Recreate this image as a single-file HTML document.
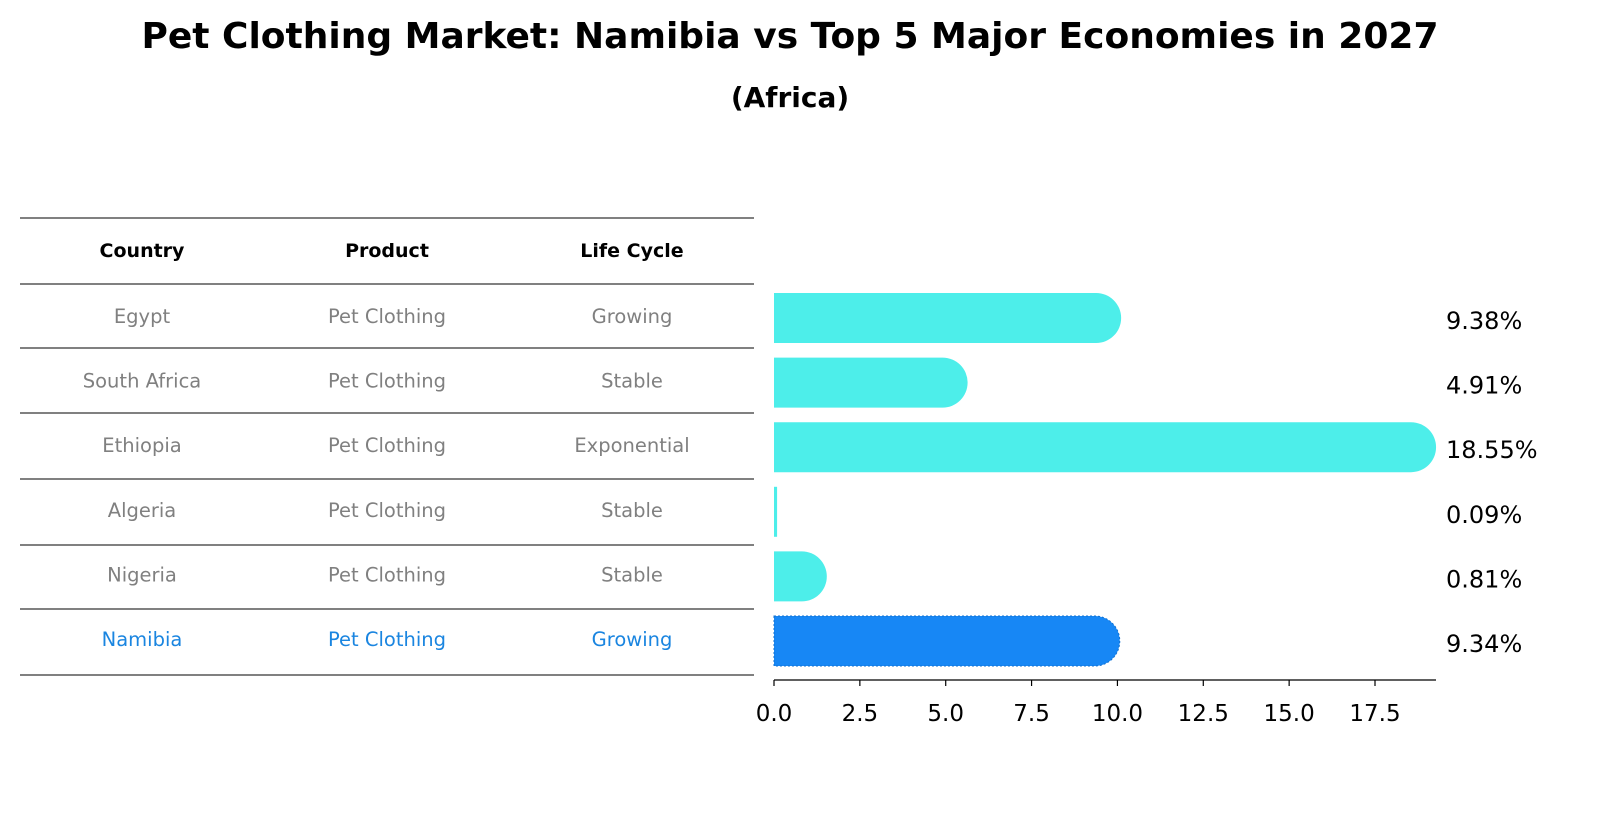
<!DOCTYPE html>
<html><head><meta charset="utf-8"><style>
body{margin:0;background:#fff;font-family:"Liberation Sans","DejaVu Sans",sans-serif;}
svg text{font-family:"DejaVu Sans","Liberation Sans",sans-serif;}
</style></head><body>
<svg width="1604" height="823" xmlns="http://www.w3.org/2000/svg" id="chart">
<text x="790" y="48" text-anchor="middle" font-size="36" font-weight="bold">Pet Clothing Market: Namibia vs Top 5 Major Economies in 2027</text>
<text x="790" y="107" text-anchor="middle" font-size="28" font-weight="bold">(Africa)</text>
<g id="table"></g>
<g id="bars"></g>
<g id="axis"></g>
</svg>
<script>
const countries=["Egypt","South Africa","Ethiopia","Algeria","Nigeria","Namibia"];
const products=["Pet Clothing","Pet Clothing","Pet Clothing","Pet Clothing","Pet Clothing","Pet Clothing"];
const lifecycles=["Growing","Stable","Exponential","Stable","Stable","Growing"];
const values=[9.38,4.91,18.55,0.09,0.81,9.34];
const ticks=[0,2.5,5,7.5,10,12.5,15,17.5];
const NS="http://www.w3.org/2000/svg";
const x0=774, scale=(1375-774)/17.5;
const xs=v=>x0+v*scale;
const rowY=i=>316+i*64.6;
function mk(tag,attrs,parent,txt){const e=document.createElementNS(NS,tag);for(const k in attrs)e.setAttribute(k,attrs[k]);if(txt!==undefined)e.textContent=txt;parent.appendChild(e);return e;}
const tbl=document.getElementById('table');
const lineYs=[218,284,348,413,479,545,609,675];
lineYs.forEach(y=>{const l=mk('line',{x1:20,x2:754,y1:y,y2:y,stroke:'#000','stroke-width':1},tbl);

});
const colX=[142,387,632];
["Country","Product","Life Cycle"].forEach((h,j)=>{const t=mk('text',{x:colX[j],y:257,'text-anchor':'middle','font-size':19,'font-weight':'bold'},tbl,h);

});
countries.forEach((c,i)=>{const col=c==="Namibia"?"#1a85e0":"#808080";
[c,products[i],lifecycles[i]].forEach((v,j)=>{const t=mk('text',{x:colX[j],y:rowY(i)+7,'text-anchor':'middle','font-size':19.5,fill:col},tbl,v);

});});
const bars=document.getElementById('bars');
const h=50,r=25;
values.forEach((v,i)=>{const y=rowY(i)+2-h/2;const xe=xs(v);const w=xe-x0;
const col=countries[i]==="Namibia"?"#1787f5":"#4deeea";
let d;
if(w>10){d=`M${x0},${y} H${xe} A${r},${r} 0 0 1 ${xe},${y+h} H${x0} Z`;}
else{const ww=Math.max(w,3);d=`M${x0},${y} H${x0+ww} V${y+h} H${x0} Z`;}
const p=mk('path',{d:d,fill:col},bars);
if(countries[i]==="Namibia"){p.setAttribute('stroke','#1070d0');p.setAttribute('stroke-dasharray','2,2');p.setAttribute('stroke-width','1');}


const t=mk('text',{x:1446,y:rowY(i)+13,'font-size':24},bars,v.toFixed(2)+'%');

});
const ax=document.getElementById('axis');
const al=mk('line',{x1:x0,x2:1436,y1:680,y2:680,stroke:'#000','stroke-width':1.3},ax);


ticks.forEach(tv=>{const x=xs(tv);mk('line',{x1:x,x2:x,y1:680,y2:686,stroke:'#000','stroke-width':1.2},ax);
const t=mk('text',{x:x,y:721,'text-anchor':'middle','font-size':23},ax,tv.toFixed(1));

});
</script>
</body></html>
